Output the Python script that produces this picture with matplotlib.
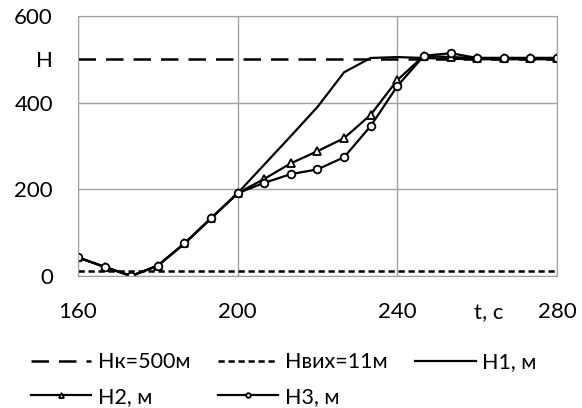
import matplotlib.pyplot as plt
import numpy as np

plt.rcParams['font.family'] = ['Lato', 'DejaVu Sans']

# time points, s (step 20/3)
t = np.linspace(160, 280, 19)

h1 = [43, 21, 0, 24, 75, 133, 191, 257, 323, 390, 470, 503, 505, 503, 501, 500, 500, 500, 500]
h2 = [43, 21, 0, 24, 75, 133, 191, 224, 260, 288, 318, 372, 452, 508, 505, 503, 503, 503, 503]
h3 = [43, 21, 0, 24, 75, 133, 191, 215, 235, 246, 274, 346, 438, 508, 514, 503, 503, 503, 503]

h_k = 500
h_vyh = 11

fig = plt.figure(figsize=(5.82, 4.08), dpi=100)
ax = fig.add_axes([0.134, 0.3235, 0.823, 0.6375])

lk, = ax.plot([160, 280], [h_k, h_k], color='black', lw=1.8, dashes=(7, 4), label='Hк=500м')
lv, = ax.plot([160, 280], [h_vyh, h_vyh], color='black', lw=1.8, dashes=(2.5, 1.5), label='Hвих=11м')
l1, = ax.plot(t, h1, color='black', lw=1.6, label='H1, м')
l2, = ax.plot(t, h2, color='black', lw=1.6, marker='^', ms=6, mfc='white', mew=1.3, label='H2, м')
l3, = ax.plot(t, h3, color='black', lw=1.6, marker='o', ms=5.5, mfc='white', mew=1.3, label='H3, м')

ax.set_xlim(160, 280)
ax.set_ylim(0, 600)
ax.set_xticks([160, 200, 240, 280])
ax.set_yticks([0, 200, 400, 500, 600])
ax.set_yticklabels(['0', '200', '400', 'H', '600'])
ax.tick_params(axis='y', length=0, labelsize=16, pad=18)
ax.tick_params(axis='x', length=0, labelsize=16, pad=19)
ax.grid(True, color='#a0a0a0', lw=1)
ax.yaxis.get_gridlines()[3].set_visible(False)
for s in ax.spines.values():
    s.set_color('#a0a0a0')
ax.set_axisbelow(True)

ax.text(263, -85, 't, c', fontsize=16, ha='center', va='center')

# column order so rows read: Hк, Hвих, H1 / H2, H3
handles = [lk, l2, lv, l3, l1]
fig.legend(handles, [h.get_label() for h in handles], ncol=3, loc='upper left',
           bbox_to_anchor=(0.053, 0.137), frameon=False, fontsize=15.5, markerscale=0.6,
           handlelength=2.8, columnspacing=1.3, handletextpad=0.3, labelspacing=0.68,
           borderaxespad=0, borderpad=0)

fig.savefig('out.png')
